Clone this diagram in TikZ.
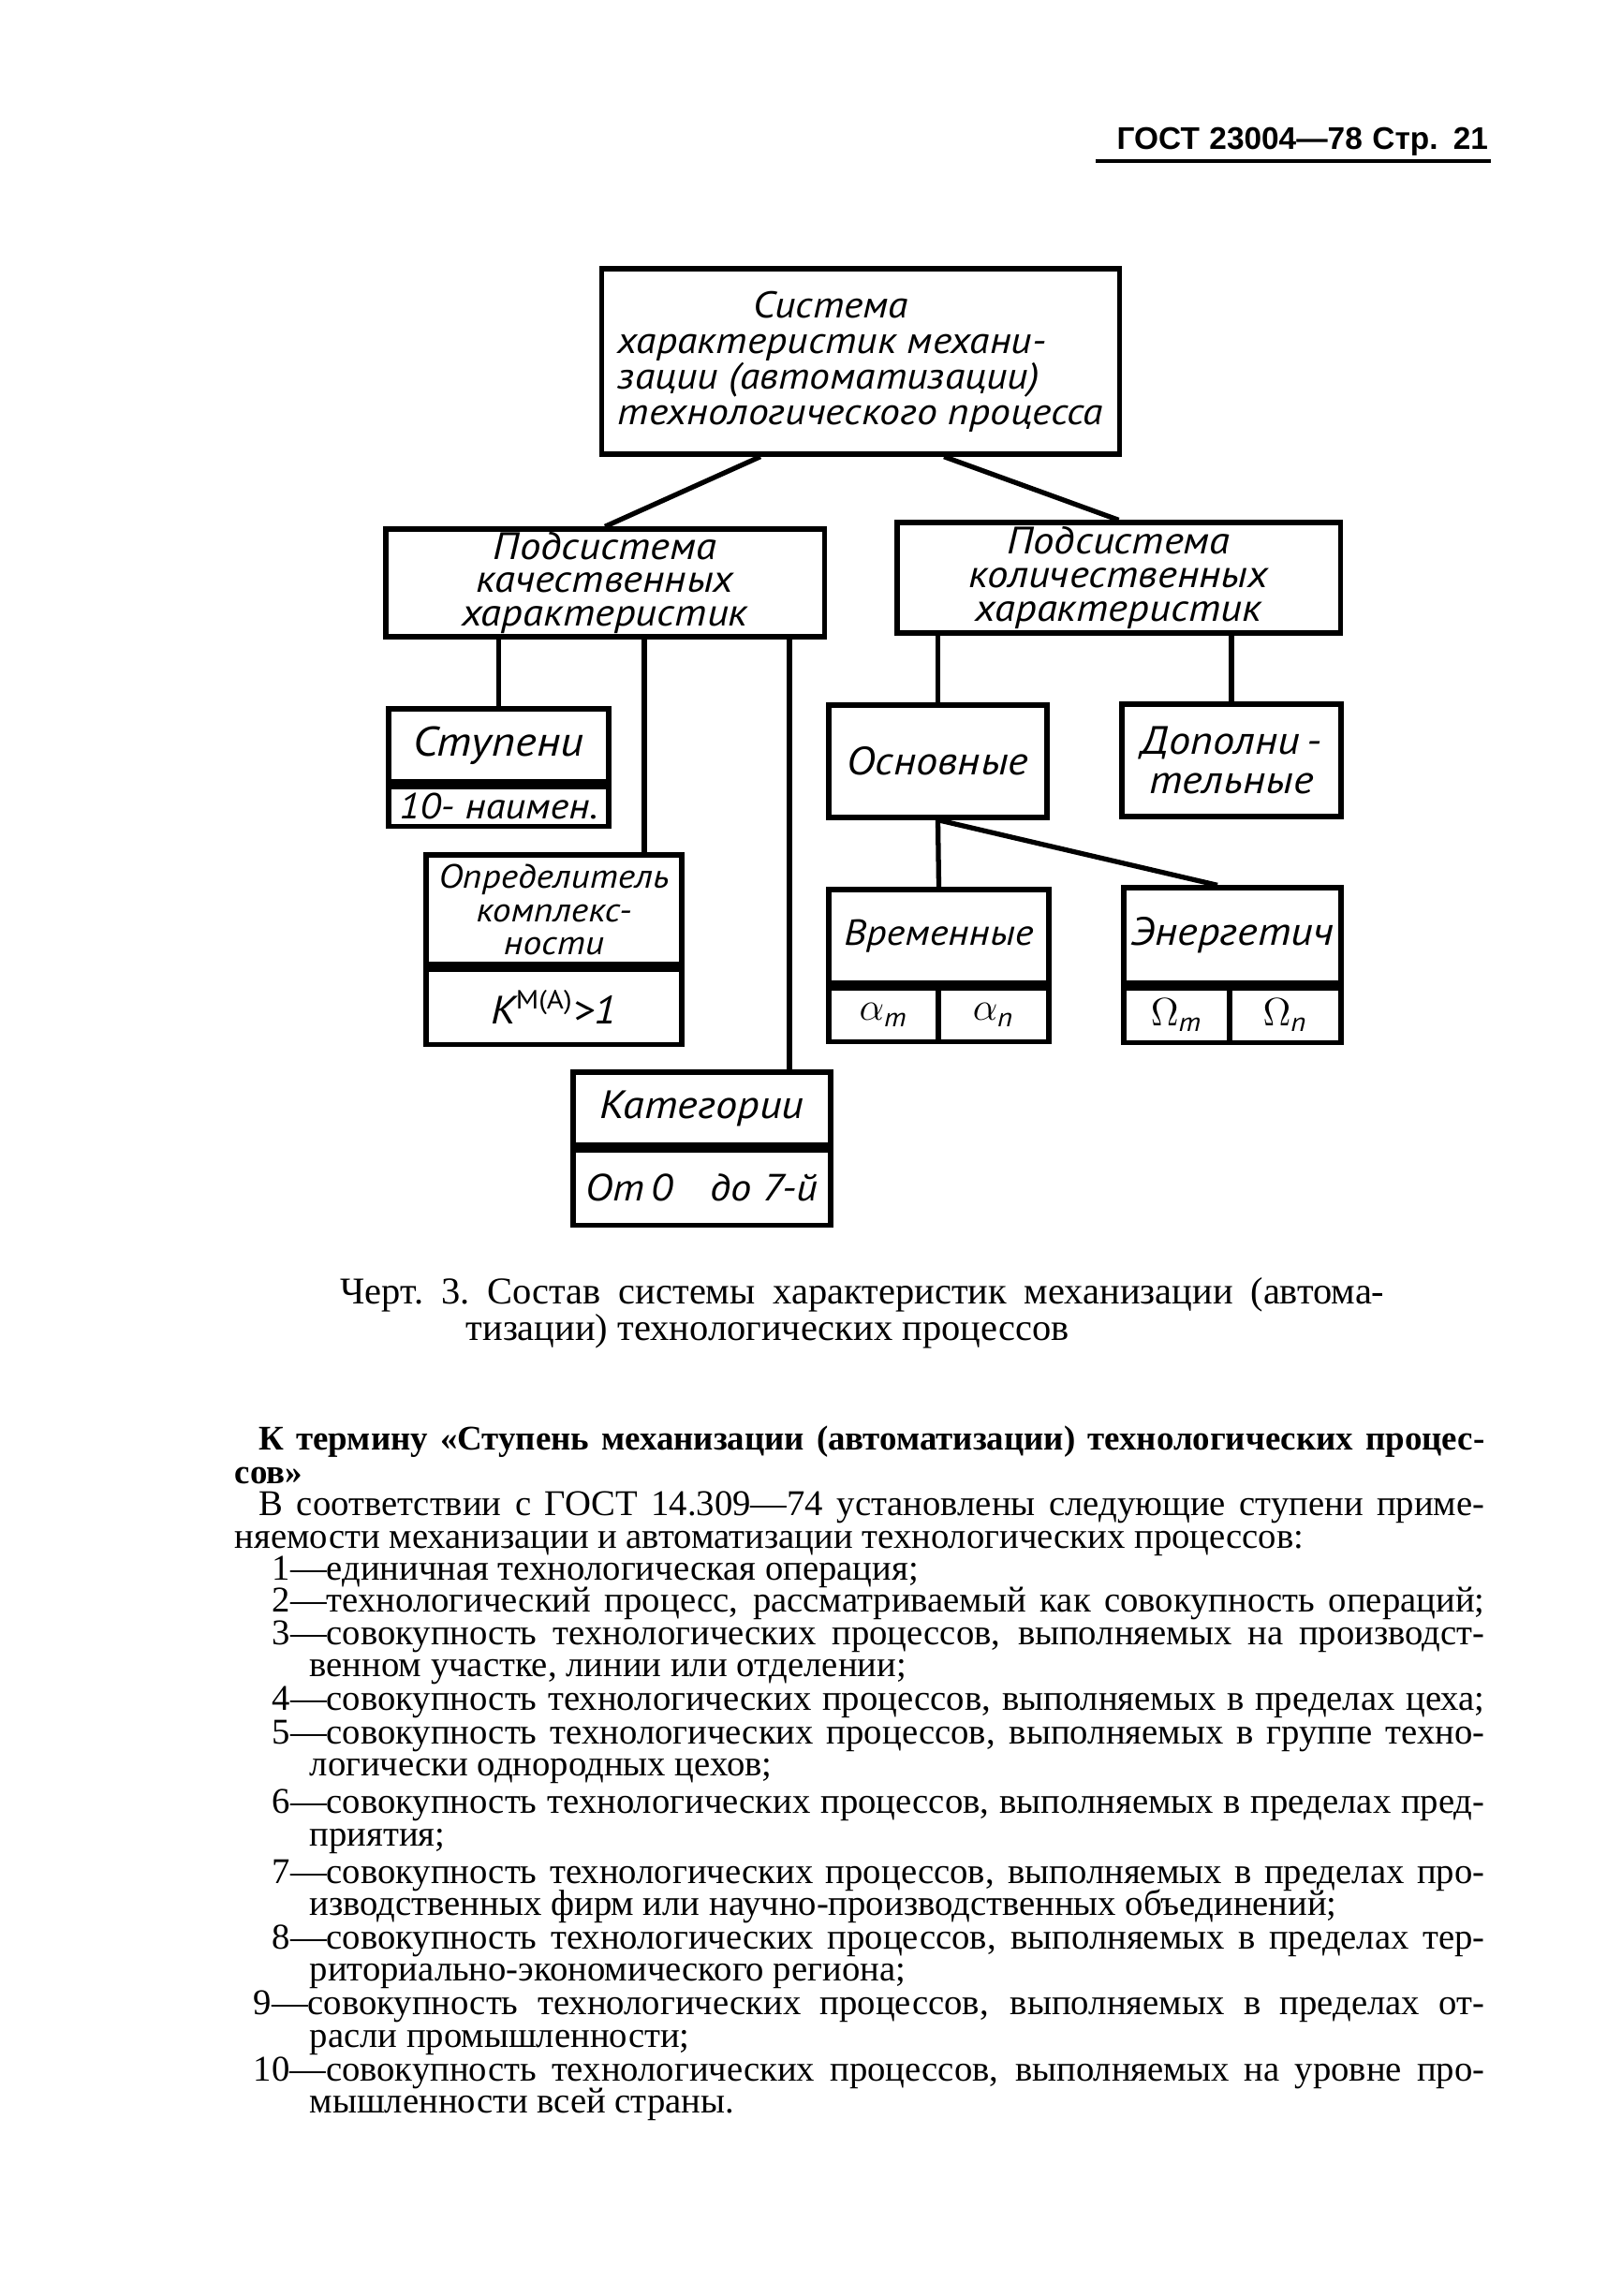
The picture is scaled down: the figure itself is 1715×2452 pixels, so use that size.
\documentclass[tikz,border=0pt]{standalone}
\usepackage{fontspec}
\setmainfont{Liberation Serif}
\newfontfamily\drawfont[FakeStretch=1.1]{PT Sans}
\newfontfamily\hdrfont{Liberation Sans}
\usetikzlibrary{positioning}
\newcommand\dfont[2]{\drawfont\itshape\fontsize{#1}{#2}\selectfont}

\tikzset{
  blk/.style={draw, line width=1.5pt, rectangle, inner sep=0pt, align=center, font={\dfont{12}{10.5}}},
  lnk/.style={line width=1.5pt},
  txt/.style={inner sep=0pt, anchor=base west, font=\fontsize{11}{13}\selectfont},
  captxt/.style={inner sep=0pt, anchor=base west, font=\frenchspacing\fontsize{11.5}{13}\selectfont},
}

\begin{document}
\begin{tikzpicture}[x=0.01cm, y=-0.01cm]
\useasboundingbox (0,0) rectangle (1715,2452);
% page head
\node[inner sep=0pt, anchor=base west, font=\hdrfont\bfseries\fontsize{9.5}{11}\selectfont] (hdr) at (1192,160)
  {\makebox[3.96cm][s]{ГОСТ 23004—78 Стр. 21}};
\draw[line width=1.3pt] (1170,172) -- (1592,172);

% top of the tree
\node[blk, align=left, font={\dfont{11.3}{10.8}}, minimum width=5.52cm, minimum height=1.98cm] (sys) at (919,386)
  {\hspace*{1.45cm}Система\\характеристик механи-\\зации (автоматизации)\\технологического процесса};
\node[blk, font={\dfont{11.6}{10.2}}, minimum width=4.68cm, minimum height=1.15cm] (qual) at (646,622.5) {Подсистема\\качественных\\характеристик};
\node[blk, font={\dfont{11.6}{10.2}}, minimum width=4.73cm, minimum height=1.18cm] (quant) at (1194.5,617) {Подсистема\\количественных\\характеристик};
\draw[lnk] ([xshift=-1.07cm]sys.south) -- (qual.north);
\draw[lnk] ([xshift=0.89cm]sys.south) -- (quant.north);

% qualitative branch
\node[blk, font={\dfont{12.6}{11}}, minimum width=2.35cm, minimum height=0.78cm] (stup) at (532.5,796) {Ступени};
\node[blk, font={\dfont{11}{10}}, minimum width=2.35cm, minimum height=0.42cm, below=0pt of stup] (stupN) {10- наимен.};
\node[blk, font={\dfont{10.2}{10.1}}, minimum width=2.73cm, minimum height=1.17cm] (opr) at (591.5,971.5) {Определитель\\комплекс-\\ности};
\node[blk, minimum width=2.73cm, minimum height=0.80cm, below=0pt of opr] (oprN) {К\textsuperscript{\upshape М(А)}>1};
\node[blk, minimum width=2.75cm, minimum height=0.78cm] (kat) at (749.5,1184) {Категории};
\node[blk, font={\dfont{11.5}{10}}, minimum width=2.75cm, minimum height=0.80cm, below=0pt of kat] (katN) {От\,0\hspace{0.4cm}до 7-й};
\coordinate (oprIn) at ([xshift=0.965cm]opr.north);
\coordinate (katIn) at ([xshift=0.935cm]kat.north);
\draw[lnk] (stup.north) -- (stup.north |- qual.south);
\draw[lnk] (oprIn) -- (oprIn |- qual.south);
\draw[lnk] (katIn) -- (katIn |- qual.south);

% quantitative branch
\node[blk, minimum width=2.33cm, minimum height=1.20cm] (osn) at (1001.5,813) {Основные};
\node[blk, font={\dfont{12}{12}}, minimum width=2.34cm, minimum height=1.20cm] (dop) at (1315,812) {Дополни\,-\\тельные};
\node[blk, font={\dfont{11}{11}}, minimum width=2.35cm, minimum height=1.00cm] (vrem) at (1002.5,1000) {Временные};
\node[blk, minimum width=1.17cm, minimum height=0.57cm, below right=0pt and 0pt of vrem.south west] (vremT) {\(\alpha\)\textsubscript{т}};
\node[blk, minimum width=1.18cm, minimum height=0.57cm, below left=0pt and 0pt of vrem.south east] (vremP) {\(\alpha\)\textsubscript{п}};
\node[blk, minimum width=2.32cm, minimum height=1.02cm] (energ) at (1316,999) {Энергетич};
\node[blk, minimum width=1.13cm, minimum height=0.58cm, below right=0pt and 0pt of energ.south west] (energT) {\(\Omega\)\textsubscript{т}};
\node[blk, minimum width=1.19cm, minimum height=0.58cm, below left=0pt and 0pt of energ.south east] (energP) {\(\Omega\)\textsubscript{п}};
\draw[lnk] (osn.north) -- (osn.north |- quant.south);
\draw[lnk] (dop.north) -- (dop.north |- quant.south);
\draw[lnk] (osn.south) -- (vrem.north);
\draw[lnk] (osn.south) -- ([xshift=-0.16cm]energ.north);

% caption
\node[captxt] (cap1) at (363,1392) {\makebox[11.14cm][s]{Черт. 3. Состав системы характеристик механизации (автома-}};
\node[captxt] (cap2) at (497,1431) {тизации) технологических процессов};

% text below
\node[txt, font=\bfseries\fontsize{10.5}{13}\selectfont] (l1) at (276,1548) {\makebox[13.08cm][s]{К термину «Ступень механизации (автоматизации) технологических процес-}};
\node[txt, font=\bfseries\fontsize{10.5}{13}\selectfont] (l2) at (250,1584) {сов»};
\node[txt] (l3) at (276,1618) {\makebox[13.08cm][s]{В соответствии с ГОСТ 14.309—74 установлены следующие ступени приме-}};
\node[txt] (l4) at (250,1653) {няемости механизации и автоматизации технологических процессов:};
\node[txt] (l5) at (290,1687) {1—единичная технологическая операция;};
\node[txt] (l6) at (290,1721) {\makebox[12.94cm][s]{2—технологический процесс, рассматриваемый как совокупность операций;}};
\node[txt] (l7) at (290,1756) {\makebox[12.94cm][s]{3—совокупность технологических процессов, выполняемых на производст-}};
\node[txt] (l8) at (330,1790) {венном участке, линии или отделении;};
\node[txt] (l9) at (290,1826) {\makebox[12.94cm][s]{4—совокупность технологических процессов, выполняемых в пределах цеха;}};
\node[txt] (l10) at (290,1862) {\makebox[12.94cm][s]{5—совокупность технологических процессов, выполняемых в группе техно-}};
\node[txt] (l11) at (330,1896) {логически однородных цехов;};
\node[txt] (l12) at (290,1936) {\makebox[12.94cm][s]{6—совокупность технологических процессов, выполняемых в пределах пред-}};
\node[txt] (l13) at (330,1971) {приятия;};
\node[txt] (l14) at (290,2011) {\makebox[12.94cm][s]{7—совокупность технологических процессов, выполняемых в пределах про-}};
\node[txt] (l15) at (330,2045) {изводственных фирм или научно-производственных объединений;};
\node[txt] (l16) at (290,2081) {\makebox[12.94cm][s]{8—совокупность технологических процессов, выполняемых в пределах тер-}};
\node[txt] (l17) at (330,2115) {риториально-экономического региона;};
\node[txt] (l18) at (270,2151) {\makebox[13.14cm][s]{9—совокупность технологических процессов, выполняемых в пределах от-}};
\node[txt] (l19) at (330,2186) {расли промышленности;};
\node[txt] (l20) at (270,2222) {\makebox[13.14cm][s]{10—совокупность технологических процессов, выполняемых на уровне про-}};
\node[txt] (l21) at (330,2256) {мышленности всей страны.};
\end{tikzpicture}
\end{document}
